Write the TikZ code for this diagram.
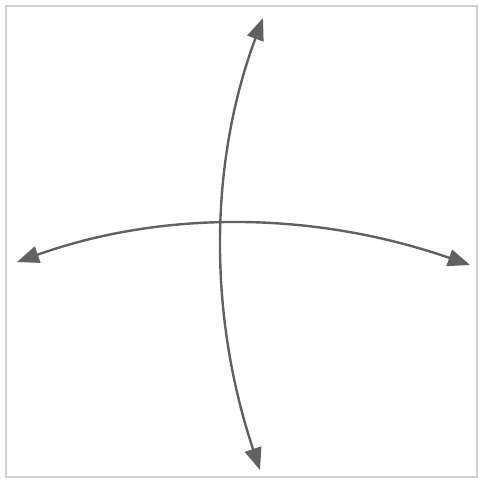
\documentclass[tikz,border=0pt]{standalone}
\usetikzlibrary{arrows.meta}

\begin{document}
\begin{tikzpicture}[x=1pt, y=-1pt,
  arcarrow/.style={draw=black!62, line width=2.4pt, {Triangle[length=22pt,width=17pt]}-{Triangle[length=22pt,width=17pt]}}]
\useasboundingbox (0,0) rectangle (478,479);
\draw[black!18, line width=1.2pt] (6,6) rectangle (477,477);
% end points
\coordinate (west) at (17,262);
\coordinate (east) at (470,265);
\coordinate (north) at (263,18);
\coordinate (south) at (260,470);
% long arcs
\draw[arcarrow] (west) .. controls (163,210) and (314,211) .. (east);
\draw[arcarrow] (north) .. controls (209,163) and (208,314) .. (south);
\end{tikzpicture}
\end{document}
